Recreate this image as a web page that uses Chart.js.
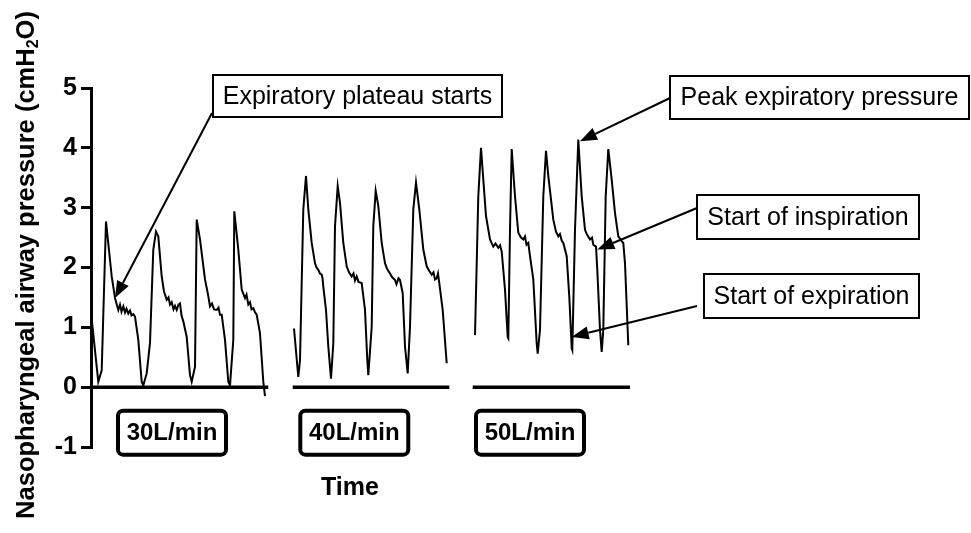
<!DOCTYPE html>
<html>
<head>
<meta charset="utf-8">
<script src="https://cdn.jsdelivr.net/npm/chart.js@4"></script>
<style>
    html, body { margin: 0; padding: 0; background: #fff; }
    #wrap { width: 971px; height: 533px; }
</style>
</head>
<body>
<div id="wrap"><canvas id="chartPressure" width="971" height="533"></canvas></div>
<script>
// =====================================
// DATA (time units, pressure cmH2O)
// =====================================

const time30 = [0.5, 7.3, 10.7, 15, 20.7, 24, 27.3, 29, 30.5, 32.3, 34, 35.5, 37.3, 39, 40.5, 42.3, 44, 47.3, 50.7, 52.3,
    55.7, 59, 62.3, 65, 67.3, 70.7, 73, 75.7, 77.5, 79, 80.7, 82.5, 84, 85.7, 87.5, 89, 90.5, 92.3, 95.7, 99, 100.7,
    104, 105.7, 109, 114, 117, 119, 121, 123, 125.7, 127.5, 129, 130.7, 134, 137.3, 139,
    142.3, 143.3, 147.3, 150.7, 154, 155.5, 157.3, 159, 160.5, 162.3, 164, 165.7, 169, 172.3, 174];
const press30 = [1.17, 0.09, 0.28, 2.77, 1.85, 1.49, 1.29, 1.38, 1.26, 1.35, 1.25, 1.31, 1.23, 1.28, 1.2, 1.22, 1.18, 0.79, 0.09, 0.03,
    0.23, 0.74, 2.3, 2.6, 2.52, 1.85, 1.6, 1.46, 1.5, 1.38, 1.42, 1.3, 1.36, 1.29, 1.38, 1.4, 1.2, 1.1, 0.84, 0.2, 0.09,
    0.34, 2.8, 2.47, 1.8, 1.55, 1.35, 1.4, 1.3, 1.29, 1.33, 1.21, 1.21, 0.79, 0.09, 0.03,
    0.79, 2.94, 2.3, 1.63, 1.49, 1.55, 1.38, 1.42, 1.3, 1.32, 1.25, 1.21, 0.9, 0.09, -0.15];

const time40 = [203, 207.3, 209, 212.3, 215, 217.3, 220.7, 224, 225.5, 227.3, 229, 230.7, 231.5, 232.3, 235, 237.3, 240,
    242.3, 244, 246.7, 249, 252.3, 255.7, 258, 260.7, 262.5, 264, 265.7, 267.5, 270.7, 274, 276.3, 277.3,
    280.7, 282.3, 284.7, 287.3, 290.7, 294, 296, 299, 301, 304, 305.5, 307.5, 309, 311.7, 314, 316.7,
    319, 322.3, 325, 328.3, 332.3, 335.7, 338, 340.7, 342.5, 344, 345.7, 347, 348.3, 351.7, 355.7];
const press40 = [0.98, 0.17, 0.45, 2.97, 3.53, 2.97, 2.41, 2.07, 2.0, 1.96, 1.9, 1.88, 1.82, 1.68, 1.29, 0.68, 0.14,
    0.73, 2.69, 3.36, 3.08, 2.41, 2.02, 1.92, 1.85, 1.9, 1.78, 1.85, 1.76, 1.74, 1.29, 0.45, 0.2,
    1.01, 2.69, 3.28, 3.03, 2.41, 2.07, 1.98, 1.9, 1.84, 1.79, 1.72, 1.82, 1.79, 1.57, 0.68, 0.23,
    1.01, 2.97, 3.42, 2.97, 2.3, 2.02, 1.95, 1.88, 1.92, 1.8, 1.82, 1.9, 1.74, 1.29, 0.4];

const time50 = [384, 387.3, 390, 392.3, 395, 399, 402.3, 404.5, 407.3, 409, 410.7, 414, 416.7, 417.3,
    419, 420.7, 424, 427.3, 430, 432.3, 434, 435.5, 437.3, 439, 442.3, 445.7, 446.7,
    449, 452.3, 455, 457.3, 462.3, 465, 467.3, 469, 470.7, 472.3, 475.7, 478.3, 480.7, 481.3,
    484, 487.3, 490.7, 494, 496, 499, 501, 502.3, 505, 506.3, 509, 510.7,
    512.3, 514.7, 517.3, 520.7, 524, 527.3, 530.7, 532.3, 534, 537.3];
const press50 = [0.87, 3.19, 4.0, 3.47, 2.86, 2.47, 2.35, 2.4, 2.33, 2.37, 2.27, 1.63, 0.84, 0.82,
    2.63, 3.98, 3.19, 2.58, 2.5, 2.47, 2.52, 2.38, 2.41, 2.19, 1.8, 0.73, 0.56,
    0.96, 3.19, 3.95, 3.53, 2.8, 2.6, 2.52, 2.56, 2.45, 2.41, 2.19, 1.51, 0.65, 0.62,
    2.63, 4.14, 3.19, 2.63, 2.55, 2.47, 2.5, 2.38, 2.35, 1.96, 0.96, 0.59,
    0.96, 3.19, 3.98, 3.47, 2.91, 2.52, 2.44, 2.41, 2.07, 0.7];

// zero baselines under each flow rate
const baseStart = [0, 201.7, 381.7];
const baseEnd = [177.3, 358.3, 539];

// flow labels below the axis
const flowLabels = ["30L/min", "40L/min", "50L/min"];
const flowLabelTime = [81, 263.3, 439];

// y ticks
const yMin = -1;
const yMax = 5;

// callouts: text and the point the arrow points at (time, pressure)
const calloutText = ["Expiratory plateau starts", "Peak expiratory pressure", "Start of inspiration", "Start of expiration"];
const calloutTime = [24, 489, 506.3, 480.7];
const calloutPress = [1.49, 4.11, 2.3, 0.84];

const yTitle = ["Nasopharyngeal airway pressure (cmH", "2", "O)"];
const xTitle = "Time";

// =====================================
// LAYOUT (pixels)
// =====================================

const calloutBox = [
    { x: 213, y: 75, w: 289, h: 42, tx: 212, ty: 113 },
    { x: 670, y: 76, w: 299, h: 43, tx: 670, ty: 98 },
    { x: 697, y: 195, w: 222, h: 44, tx: 697, ty: 208 },
    { x: 704, y: 274, w: 215, h: 44, tx: 697, ty: 306 }
];

const FONT = "Arial, 'Liberation Sans', Helvetica, sans-serif";

function toPoints(xs, ys) {
    return xs.map((x, i) => ({ x: x, y: ys[i] }));
}

function arrow(ctx, x1, y1, x2, y2) {
    const ang = Math.atan2(y2 - y1, x2 - x1);
    const len = 17, half = 6.5;
    const bx = x2 - len * Math.cos(ang);
    const by = y2 - len * Math.sin(ang);
    ctx.beginPath();
    ctx.moveTo(x1, y1);
    ctx.lineTo(bx, by);
    ctx.lineWidth = 2;
    ctx.strokeStyle = "#000";
    ctx.stroke();
    ctx.beginPath();
    ctx.moveTo(x2, y2);
    ctx.lineTo(bx + half * Math.sin(ang), by - half * Math.cos(ang));
    ctx.lineTo(bx - half * Math.sin(ang), by + half * Math.cos(ang));
    ctx.closePath();
    ctx.fillStyle = "#000";
    ctx.fill();
}

function roundBox(ctx, x, y, w, h, r) {
    ctx.beginPath();
    ctx.moveTo(x + r, y);
    ctx.arcTo(x + w, y, x + w, y + h, r);
    ctx.arcTo(x + w, y + h, x, y + h, r);
    ctx.arcTo(x, y + h, x, y, r);
    ctx.arcTo(x, y, x + w, y, r);
    ctx.closePath();
}

// =====================================
// OVERLAY PLUGIN (titles, labels, callouts)
// =====================================

const overlay = {
    id: "overlay",
    afterDraw(chart) {
        const ctx = chart.ctx;
        const sx = chart.scales.x;
        const sy = chart.scales.y;

        ctx.save();

        // y axis title with subscript
        ctx.translate(27, 265);
        ctx.rotate(-Math.PI / 2);
        ctx.fillStyle = "#000";
        ctx.textBaseline = "middle";
        ctx.textAlign = "left";
        ctx.font = "bold 25.5px " + FONT;
        const w1 = ctx.measureText(yTitle[0]).width;
        const w3 = ctx.measureText(yTitle[2]).width;
        ctx.font = "bold 16px " + FONT;
        const w2 = ctx.measureText(yTitle[1]).width;
        let start = -(w1 + w2 + w3) / 2;
        ctx.font = "bold 25.5px " + FONT;
        ctx.fillText(yTitle[0], start, 0);
        ctx.font = "bold 16px " + FONT;
        ctx.fillText(yTitle[1], start + w1, 7);
        ctx.font = "bold 25.5px " + FONT;
        ctx.fillText(yTitle[2], start + w1 + w2, 0);
        ctx.restore();

        ctx.save();

        // flow rate boxes
        const by = sy.getPixelForValue(-0.76);
        flowLabels.forEach((txt, i) => {
            const cx = sx.getPixelForValue(flowLabelTime[i]);
            roundBox(ctx, cx - 54, by - 22, 108, 44, 5);
            ctx.lineWidth = 4;
            ctx.strokeStyle = "#000";
            ctx.stroke();
            ctx.fillStyle = "#000";
            ctx.font = "bold 24px " + FONT;
            ctx.textAlign = "center";
            ctx.textBaseline = "middle";
            ctx.fillText(txt, cx, by + 1);
        });

        // x axis title
        ctx.font = "bold 25px " + FONT;
        ctx.textAlign = "center";
        ctx.textBaseline = "middle";
        ctx.fillText(xTitle, sx.getPixelForValue(259), 488);

        // callouts
        calloutText.forEach((txt, i) => {
            const b = calloutBox[i];
            const px = sx.getPixelForValue(calloutTime[i]);
            const py = sy.getPixelForValue(calloutPress[i]);
            arrow(ctx, b.tx, b.ty, px, py);
            ctx.fillStyle = "#fff";
            ctx.fillRect(b.x, b.y, b.w, b.h);
            ctx.lineWidth = 2;
            ctx.strokeStyle = "#000";
            ctx.strokeRect(b.x, b.y, b.w, b.h);
            ctx.fillStyle = "#000";
            ctx.font = "25px " + FONT;
            ctx.textAlign = "center";
            ctx.textBaseline = "middle";
            ctx.fillText(txt, b.x + b.w / 2, b.y + b.h / 2 + 1);
        });

        ctx.restore();
    }
};

// =====================================
// CHART
// =====================================

const traceStyle = {
    borderColor: "#000",
    borderWidth: 2,
    pointRadius: 0,
    tension: 0,
    fill: false
};

const datasets = [
    Object.assign({ data: toPoints(time30, press30) }, traceStyle),
    Object.assign({ data: toPoints(time40, press40) }, traceStyle),
    Object.assign({ data: toPoints(time50, press50) }, traceStyle)
];

baseStart.forEach((s, i) => {
    datasets.push({
        data: [{ x: s, y: 0 }, { x: baseEnd[i], y: 0 }],
        borderColor: "#000",
        borderWidth: 3.5,
        pointRadius: 0,
        fill: false
    });
});

new Chart(document.getElementById("chartPressure"), {
    type: "line",
    data: { datasets: datasets },
    options: {
        responsive: false,
        animation: false,
        devicePixelRatio: 1,
        layout: {
            padding: { top: 88, bottom: 86, left: 0, right: 0 }
        },
        plugins: {
            legend: { display: false },
            tooltip: { enabled: false }
        },
        scales: {
            x: {
                type: "linear",
                min: 0,
                max: 880,
                display: false
            },
            y: {
                type: "linear",
                min: yMin,
                max: yMax,
                afterFit: (scale) => { scale.width = 91; },
                ticks: {
                    stepSize: 1,
                    color: "#000",
                    padding: 4,
                    font: { family: FONT, size: 25, weight: "bold" }
                },
                grid: {
                    drawOnChartArea: false,
                    drawTicks: true,
                    tickLength: 10,
                    lineWidth: 3,
                    color: "#000"
                },
                border: {
                    display: true,
                    color: "#000",
                    width: 3
                }
            }
        }
    },
    plugins: [overlay]
});
</script>
</body>
</html>
